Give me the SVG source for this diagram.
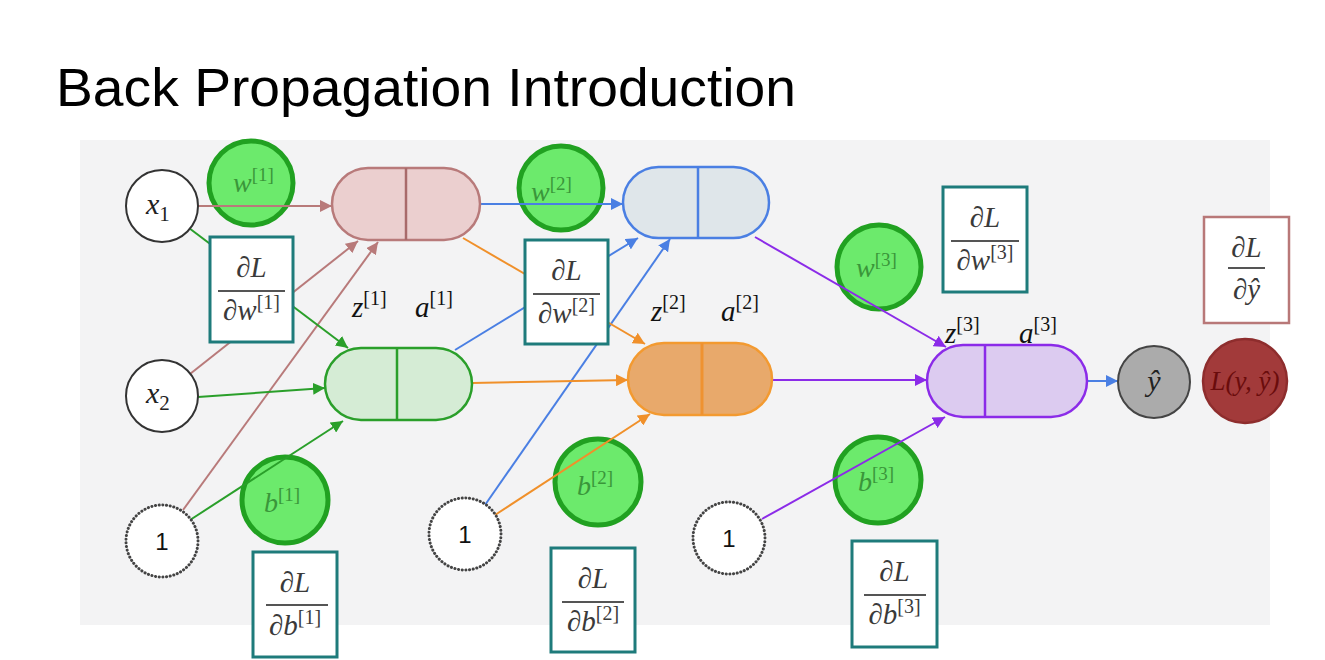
<svg xmlns="http://www.w3.org/2000/svg" width="1325" height="660" viewBox="0 0 1325 660">
<defs>
<style>
.title{font-family:"Liberation Sans",Arial,sans-serif;font-size:53px;fill:#000}
.m{font-family:"Liberation Serif","Times New Roman",serif;font-style:italic;fill:#222}
.sup{font-style:normal}
.gtxt{font-family:"Liberation Serif","Times New Roman",serif;font-style:italic;font-size:28px;fill:#3a963a}
.gc{fill:#6cea6c;stroke:#21a121;stroke-width:5}
.inp{fill:#fff;stroke:#333;stroke-width:2}
.bias{fill:#fff;stroke:#444;stroke-width:3;stroke-dasharray:0.1 3.6;stroke-linecap:round}
.one{font-family:"Liberation Sans",Arial,sans-serif;font-size:24px;fill:#111}
.box{fill:#fff;stroke:#1e7b7b;stroke-width:3}
.boxr{fill:#fff;stroke:#b87878;stroke-width:2.5}
.frac{font-family:"Liberation Serif","Times New Roman",serif;font-style:italic;font-size:29px;fill:#3a3a3a}
.fl{stroke:#555;stroke-width:2}
.c{fill:none;stroke-width:2}
.pk{stroke:#b87a7a}
.gr{stroke:#2a9f2a}
.bl{stroke:#4a7fe3}
.or{stroke:#f0902a}
.pu{stroke:#8b2be8}
.lbl{font-family:"Liberation Serif","Times New Roman",serif;font-style:italic;font-size:29px;fill:#111}
</style>
<marker id="apk" viewBox="0 0 10 10" refX="10" refY="5" markerWidth="12" markerHeight="12" markerUnits="userSpaceOnUse" orient="auto"><path d="M0,0 L10,5 L0,10 z" fill="#b87a7a"/></marker>
<marker id="agr" viewBox="0 0 10 10" refX="10" refY="5" markerWidth="12" markerHeight="12" markerUnits="userSpaceOnUse" orient="auto"><path d="M0,0 L10,5 L0,10 z" fill="#2a9f2a"/></marker>
<marker id="abl" viewBox="0 0 10 10" refX="10" refY="5" markerWidth="12" markerHeight="12" markerUnits="userSpaceOnUse" orient="auto"><path d="M0,0 L10,5 L0,10 z" fill="#4a7fe3"/></marker>
<marker id="aor" viewBox="0 0 10 10" refX="10" refY="5" markerWidth="12" markerHeight="12" markerUnits="userSpaceOnUse" orient="auto"><path d="M0,0 L10,5 L0,10 z" fill="#f0902a"/></marker>
<marker id="apu" viewBox="0 0 10 10" refX="10" refY="5" markerWidth="12" markerHeight="12" markerUnits="userSpaceOnUse" orient="auto"><path d="M0,0 L10,5 L0,10 z" fill="#8b2be8"/></marker>
</defs>
<rect x="0" y="0" width="1325" height="660" fill="#fff"/>
<rect x="80" y="140" width="1190" height="485" fill="#f3f3f4"/>
<text class="title" x="56" y="106" textLength="740" lengthAdjust="spacingAndGlyphs">Back Propagation Introduction</text>

<!-- green parameter circles -->
<g id="w1"><circle class="gc" cx="251" cy="183" r="42"/><text class="gtxt" x="233" y="192">w<tspan class="sup" font-size="19" dy="-11">[1]</tspan></text></g>
<g id="w2"><circle class="gc" cx="561" cy="188" r="42"/><text class="gtxt" x="531" y="201">w<tspan class="sup" font-size="19" dy="-11">[2]</tspan></text></g>
<g id="w3"><circle class="gc" cx="879" cy="267" r="42"/><text class="gtxt" x="856" y="277">w<tspan class="sup" font-size="19" dy="-11">[3]</tspan></text></g>
<g id="b1"><circle class="gc" cx="285" cy="500" r="43"/><text class="gtxt" x="264" y="512">b<tspan class="sup" font-size="19" dy="-11">[1]</tspan></text></g>
<g id="b2"><circle class="gc" cx="598" cy="482" r="43"/><text class="gtxt" x="577" y="495">b<tspan class="sup" font-size="19" dy="-11">[2]</tspan></text></g>
<g id="b3"><circle class="gc" cx="878" cy="480" r="43"/><text class="gtxt" x="858" y="491">b<tspan class="sup" font-size="19" dy="-11">[3]</tspan></text></g>

<!-- connectors -->
<g id="connectors">
<line class="c pk" x1="198" y1="206" x2="332" y2="206" marker-end="url(#apk)"/>
<line class="c pk" x1="190" y1="374" x2="358" y2="241" marker-end="url(#apk)"/>
<line class="c pk" x1="183" y1="510" x2="378" y2="242" marker-end="url(#apk)"/>
<line class="c gr" x1="189" y1="228" x2="348" y2="348" marker-end="url(#agr)"/>
<line class="c gr" x1="198" y1="397" x2="325" y2="388" marker-end="url(#agr)"/>
<line class="c gr" x1="190" y1="520" x2="343" y2="421" marker-end="url(#agr)"/>
<line class="c bl" x1="480" y1="204" x2="623" y2="204" marker-end="url(#abl)"/>
<line class="c bl" x1="455" y1="350" x2="638" y2="238" marker-end="url(#abl)"/>
<line class="c bl" x1="485" y1="505" x2="670" y2="239" marker-end="url(#abl)"/>
<line class="c or" x1="463" y1="238" x2="645" y2="344" marker-end="url(#aor)"/>
<line class="c or" x1="472" y1="383" x2="628" y2="380" marker-end="url(#aor)"/>
<line class="c or" x1="495" y1="515" x2="650" y2="414" marker-end="url(#aor)"/>
<line class="c pu" x1="755" y1="237" x2="946" y2="347" marker-end="url(#apu)"/>
<line class="c pu" x1="772" y1="380" x2="927" y2="380" marker-end="url(#apu)"/>
<line class="c pu" x1="762" y1="519" x2="945" y2="417" marker-end="url(#apu)"/>
<line class="c bl" x1="1087" y1="381" x2="1118" y2="381" marker-end="url(#abl)"/>
</g>

<!-- inputs -->
<g id="x1"><circle class="inp" cx="162" cy="206" r="36"/><text class="m" font-size="30" x="146" y="214">x<tspan font-style="normal" font-size="21" dy="7">1</tspan></text></g>
<g id="x2"><circle class="inp" cx="162" cy="396" r="36"/><text class="m" font-size="30" x="146" y="403">x<tspan font-style="normal" font-size="21" dy="7">2</tspan></text></g>
<g id="one1"><circle class="bias" cx="162" cy="541" r="36"/><text class="one" x="162" y="550" text-anchor="middle">1</text></g>
<g id="one2"><circle class="bias" cx="465" cy="534" r="36"/><text class="one" x="465" y="543" text-anchor="middle">1</text></g>
<g id="one3"><circle class="bias" cx="729" cy="538" r="36"/><text class="one" x="729" y="547" text-anchor="middle">1</text></g>

<!-- layer nodes -->
<g id="l1top"><rect x="332" y="168" width="148" height="72" rx="36" fill="#ebcfcf" stroke="#b87a7a" stroke-width="2.5"/><line x1="406" y1="168" x2="406" y2="240" stroke="#a86a6a" stroke-width="2.5"/></g>
<g id="l1bot"><rect x="325" y="348" width="147" height="72" rx="36" fill="#d5ecd5" stroke="#2a9f2a" stroke-width="2.5"/><line x1="397" y1="348" x2="397" y2="420" stroke="#2a9f2a" stroke-width="2.5"/></g>
<g id="l2top"><rect x="623" y="167" width="146" height="71" rx="35.5" fill="#dfe6ea" stroke="#4a7fe3" stroke-width="2.5"/><line x1="698" y1="167" x2="698" y2="238" stroke="#4a7fe3" stroke-width="2.5"/></g>
<g id="l2bot"><rect x="628" y="343" width="144" height="72" rx="36" fill="#e8a96b" stroke="#f39a30" stroke-width="2.5"/><line x1="702" y1="343" x2="702" y2="415" stroke="#ef9230" stroke-width="3"/></g>
<g id="l3"><rect x="927" y="345" width="160" height="72" rx="36" fill="#dccbf0" stroke="#8b2be8" stroke-width="2.5"/><line x1="985" y1="345" x2="985" y2="417" stroke="#8b2be8" stroke-width="2.5"/></g>

<!-- z/a labels -->
<g id="labels">
<text class="lbl" x="352" y="317">z<tspan class="sup" font-size="20" dy="-12">[1]</tspan></text>
<text class="lbl" x="415" y="317">a<tspan class="sup" font-size="20" dy="-12">[1]</tspan></text>
<text class="lbl" x="651" y="321">z<tspan class="sup" font-size="20" dy="-12">[2]</tspan></text>
<text class="lbl" x="721" y="321">a<tspan class="sup" font-size="20" dy="-12">[2]</tspan></text>
<text class="lbl" x="945" y="343">z<tspan class="sup" font-size="20" dy="-12">[3]</tspan></text>
<text class="lbl" x="1019" y="343">a<tspan class="sup" font-size="20" dy="-12">[3]</tspan></text>
</g>

<!-- output -->
<g id="yhat"><circle cx="1154" cy="382" r="36" fill="#ababab" stroke="#444" stroke-width="2"/><text class="m" font-size="30" x="1154" y="391" text-anchor="middle">ŷ</text></g>
<g id="loss"><circle cx="1245" cy="381" r="42" fill="#a23a3a" stroke="#8e2d2d" stroke-width="2.5"/><text class="m" font-size="27" x="1245" y="390" text-anchor="middle" style="fill:#6a0c0c">L(y, ŷ)</text></g>

<!-- gradient boxes -->
<g id="dw1"><rect class="box" x="210" y="237" width="83" height="105"/><text class="frac" x="251.5" y="277" text-anchor="middle">∂L</text><line class="fl" x1="218" y1="291" x2="285" y2="291"/><text class="frac" x="251.5" y="320" text-anchor="middle">∂w<tspan class="sup" font-size="20" dy="-11">[1]</tspan></text></g>
<g id="dw2"><rect class="box" x="525" y="240" width="83" height="104"/><text class="frac" x="566.5" y="280" text-anchor="middle">∂L</text><line class="fl" x1="533" y1="294" x2="600" y2="294"/><text class="frac" x="566.5" y="323" text-anchor="middle">∂w<tspan class="sup" font-size="20" dy="-11">[2]</tspan></text></g>
<g id="dw3"><rect class="box" x="943" y="187" width="84" height="105"/><text class="frac" x="985" y="227" text-anchor="middle">∂L</text><line class="fl" x1="951" y1="241" x2="1019" y2="241"/><text class="frac" x="985" y="270" text-anchor="middle">∂w<tspan class="sup" font-size="20" dy="-11">[3]</tspan></text></g>
<g id="dyhat"><rect class="boxr" x="1204" y="217" width="85" height="106"/><text class="frac" x="1246.5" y="257" text-anchor="middle">∂L</text><line class="fl" x1="1228" y1="268" x2="1265" y2="268"/><text class="frac" x="1246.5" y="299" text-anchor="middle">∂ŷ</text></g>
<g id="db1"><rect class="box" x="253" y="552" width="84" height="105"/><text class="frac" x="295" y="592" text-anchor="middle">∂L</text><line class="fl" x1="266" y1="605" x2="328" y2="605"/><text class="frac" x="295" y="635" text-anchor="middle">∂b<tspan class="sup" font-size="20" dy="-11">[1]</tspan></text></g>
<g id="db2"><rect class="box" x="551" y="548" width="84" height="104"/><text class="frac" x="593" y="588" text-anchor="middle">∂L</text><line class="fl" x1="562" y1="602" x2="624" y2="602"/><text class="frac" x="593" y="631" text-anchor="middle">∂b<tspan class="sup" font-size="20" dy="-11">[2]</tspan></text></g>
<g id="db3"><rect class="box" x="852" y="541" width="85" height="106"/><text class="frac" x="894.5" y="581" text-anchor="middle">∂L</text><line class="fl" x1="864" y1="595" x2="926" y2="595"/><text class="frac" x="894.5" y="624" text-anchor="middle">∂b<tspan class="sup" font-size="20" dy="-11">[3]</tspan></text></g>
</svg>
